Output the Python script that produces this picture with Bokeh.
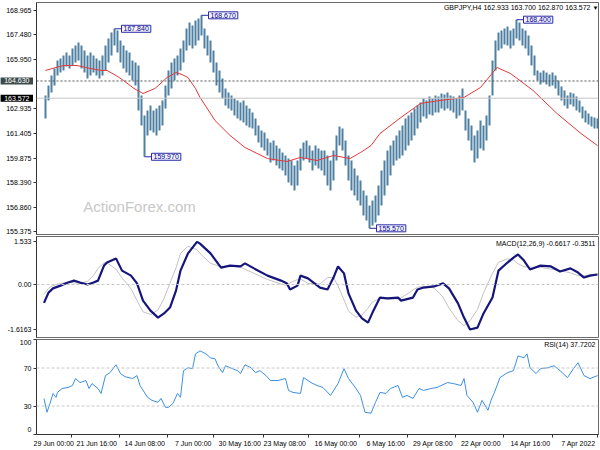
from bokeh.plotting import figure
from bokeh.models import Range1d, FixedTicker, Label, Span
from bokeh.layouts import column, row
from bokeh.embed import file_html
from bokeh.resources import INLINE

# ---------------- data ----------------
symbol_caption = "GBPJPY,H4 162.933 163.700 162.870 163.572"
macd_caption = "MACD(12,26,9) -0.6617 -0.3511"
rsi_caption = "RSI(14) 37.7202"
watermark_text = "ActionForex.com"

# H4 bars, every second bar, bar 0 = oldest (7 Apr 2022)
bar_high = [
    162.32, 162.39, 162.45, 162.63, 162.82, 163.06, 163.43, 163.68, 163.86, 163.92,
    163.74, 164.05, 164.29, 164.66, 164.97, 165.15, 165.03, 165.15, 165.28, 165.15,
    165.28, 166.20, 166.81, 167.43, 167.74, 167.86, 168.23, 168.40, 167.86, 167.74,
    167.98, 167.86, 167.74, 167.61, 167.12, 165.89, 163.74, 162.51, 161.89, 162.20,
    161.59, 161.28, 161.89, 162.32, 162.82, 164.17, 163.74, 163.55, 163.68, 163.74,
    163.92, 163.80, 163.86, 163.68, 163.74, 163.55, 163.68, 163.43, 163.55, 163.31,
    163.12, 162.94, 162.69, 162.51, 162.32, 161.89, 161.59, 161.28, 160.97, 160.66,
    160.36, 159.74, 159.13, 158.20, 157.59, 157.28, 156.97, 157.59, 157.90, 158.51,
    158.82, 159.25, 159.74, 160.05, 160.97, 161.71, 161.83, 161.28, 160.36, 159.74,
    160.05, 160.36, 160.36, 160.48, 160.66, 160.36, 160.66, 160.97, 160.85, 160.48,
    159.74, 159.43, 159.74, 159.86, 160.05, 160.23, 160.48, 160.66, 160.97, 160.85,
    161.09, 161.46, 161.59, 161.89, 162.32, 162.69, 162.94, 163.12, 163.43, 163.31,
    163.43, 163.55, 163.74, 163.92, 164.17, 164.78, 165.28, 165.77, 166.51, 167.12,
    167.43, 167.86, 168.67, 168.47, 168.35, 168.04, 168.23, 167.86, 167.12, 166.63,
    166.20, 166.01, 165.77, 165.28, 164.35, 163.43, 163.12, 162.94, 162.82, 163.12,
    162.82, 162.51, 163.74, 165.58, 165.77, 165.89, 166.38, 166.51, 166.81, 167.12,
    167.74, 167.84, 167.61, 167.24, 166.81, 166.20, 165.89, 166.01, 166.20, 166.38,
    166.20, 166.51, 166.81, 167.00, 166.81, 166.63, 166.20, 166.38, 166.20, 166.01,
    165.89, 165.40, 164.97, 164.35, 163.74,
]
bar_low = [
    161.71, 161.71, 161.83, 161.96, 162.08, 162.32, 162.69, 162.82, 163.06, 163.19,
    162.94, 163.12, 163.43, 163.74, 164.17, 164.35, 164.29, 164.42, 164.54, 164.42,
    164.66, 164.97, 165.58, 166.20, 166.63, 166.81, 167.12, 167.24, 166.81, 166.63,
    166.81, 166.87, 166.63, 166.51, 165.28, 163.74, 161.89, 160.97, 160.36, 160.48,
    159.86, 159.62, 160.36, 160.97, 161.59, 162.82, 162.51, 162.32, 162.69, 162.82,
    162.94, 162.82, 162.94, 162.69, 162.69, 162.51, 162.57, 162.32, 162.45, 162.08,
    161.71, 161.28, 160.97, 160.66, 160.36, 160.05, 159.86, 159.74, 159.43, 158.82,
    158.20, 157.59, 156.97, 156.36, 155.93, 155.74, 155.57, 156.05, 156.36, 156.97,
    157.28, 157.59, 157.90, 158.51, 159.43, 160.36, 160.66, 159.74, 158.51, 157.90,
    158.20, 158.82, 159.13, 159.25, 159.43, 159.13, 159.62, 159.86, 159.74, 159.13,
    158.20, 157.90, 158.20, 158.39, 158.82, 159.13, 159.25, 159.43, 159.74, 159.62,
    160.05, 160.36, 160.54, 160.85, 161.28, 161.71, 161.77, 161.89, 162.08, 162.20,
    162.32, 162.51, 162.82, 162.94, 163.12, 163.55, 163.92, 164.35, 165.15, 165.77,
    166.20, 166.63, 167.43, 167.12, 166.81, 166.63, 166.81, 166.51, 165.77, 165.28,
    164.97, 164.66, 164.17, 163.74, 162.94, 161.89, 161.59, 161.28, 161.46, 161.59,
    161.28, 159.97, 161.89, 162.82, 164.35, 164.66, 164.97, 165.15, 165.40, 165.77,
    166.38, 166.81, 166.20, 165.77, 165.28, 164.97, 164.78, 164.97, 165.15, 164.97,
    164.78, 165.15, 165.40, 165.89, 165.77, 165.58, 165.40, 165.52, 165.28, 165.15,
    164.97, 164.35, 163.92, 163.43, 162.32,
]
bar_pos = list(range(0, 2 * len(bar_high), 2))

ma_pos = [0, 11, 27, 43, 58, 67, 78, 89, 105, 118, 131, 145, 151, 158, 165, 169, 176, 187,
          198, 207, 220, 235, 245, 255, 265, 268, 273, 277, 281, 287, 295, 303, 309, 316,
          321, 327, 331, 338, 347, 356, 361, 368]
ma_val = [160.66, 161.40, 162.63, 164.05, 165.09, 165.46, 164.23, 163.62, 163.43, 163.25,
          162.39, 161.40, 160.66, 160.23, 159.86, 159.93, 160.05, 159.74, 159.93, 159.68,
          159.86, 160.54, 161.28, 162.20, 163.62, 164.17, 164.84, 165.03, 165.15, 164.84,
          164.17, 163.86, 164.17, 164.66, 164.97, 165.28, 165.28, 165.40, 165.58, 165.58,
          165.46, 165.28]

macd_pos = [0, 5, 9, 13, 18, 25, 31, 38, 45, 49, 53, 56, 60, 66, 70, 76, 80, 85, 89, 93,
            99, 103, 109, 116, 120, 123, 131, 133, 140, 145, 150, 153, 157, 161, 166, 169,
            173, 176, 180, 185, 193, 198, 200, 205, 207, 211, 220, 229, 235, 238, 245, 251,
            258, 265, 267, 273, 278, 281, 285, 289, 293, 298, 303, 307, 311, 317, 321, 327,
            329, 333, 336, 340, 345, 349, 353, 358, 363, 366, 369]
macd_main = [0.36, 0.32, 0.25, 0.43, 0.58, 0.47, 0.65, 0.68, 0.54, 0.86,
             1.08, 0.97, 0.79, 0.50, -0.47, -1.04, -1.55, -1.6163, -1.19, -0.68,
             -0.14, 0.04, -0.07, -0.11, -0.18, -0.47, -0.58, -0.47, -0.50, -0.47,
             -1.01, -1.37, -1.22, -0.94, -0.32, 0.40, 0.65, 0.25, -0.18, -0.11,
             0.22, 0.32, -0.04, -0.18, 0.04, 0.14, 0.32, 0.58, 0.76, 0.65,
             0.68, 0.61, 1.12, 1.47, 1.533, 1.12, 0.50, -0.22, -0.83, -1.04,
             -1.19, -0.94, -0.58, 0.04, 0.32, 0.50, 0.94, 0.79, 0.68, 0.14,
             0.07, 0.00, 0.07, 0.14, 0.07, -0.04, -0.14, -0.29, -0.6617]
macd_signal = [0.38, 0.35, 0.31, 0.32, 0.42, 0.50, 0.55, 0.62, 0.62, 0.64,
               0.75, 0.88, 0.92, 0.80, 0.40, -0.30, -0.90, -1.30, -1.48, -1.30,
               -0.85, -0.45, -0.12, -0.06, -0.10, -0.20, -0.48, -0.52, -0.52, -0.50,
               -0.62, -0.85, -1.10, -1.18, -0.95, -0.55, -0.05, 0.25, 0.25, 0.02,
               0.04, 0.20, 0.18, 0.06, -0.03, 0.02, 0.18, 0.40, 0.55, 0.62,
               0.66, 0.64, 0.76, 1.12, 1.25, 1.38, 1.12, 0.60, 0.05, -0.50,
               -0.92, -1.08, -0.98, -0.58, -0.15, 0.24, 0.55, 0.78, 0.78, 0.58,
               0.32, 0.12, 0.04, 0.06, 0.08, 0.04, -0.04, -0.14, -0.3511]

rsi_pos = [0, 5, 9, 13, 16, 20, 25, 29, 33, 38, 41, 45, 47, 49, 53, 56, 60, 65, 69, 71,
           73, 77, 80, 83, 87, 89, 91, 96, 100, 107, 111, 116, 119, 123, 127, 130, 133,
           138, 141, 145, 148, 151, 155, 158, 161, 166, 169, 173, 178, 183, 187, 191, 196,
           198, 203, 206, 208, 213, 218, 221, 225, 228, 231, 235, 238, 240, 245, 248, 250,
           253, 255, 258, 261, 265, 268, 270, 273, 276, 278, 280, 283, 286, 288, 291, 293,
           297, 300, 305, 307, 310, 315, 318, 321, 325, 328, 331, 333, 337, 339, 341, 345,
           348, 350, 353, 357, 360, 361, 363, 365, 367, 369]
rsi_val = [62.0, 58.9, 62.0, 75.5, 69.3, 59.9, 67.2, 72.4, 70.3, 69.3, 64.1, 70.3, 84.9,
           80.7, 82.8, 67.2, 65.1, 59.9, 43.2, 35.9, 25.5, 35.9, 23.4, 33.9, 41.1, 58.9,
           51.6, 53.6, 54.7, 49.5, 48.4, 46.4, 48.4, 38.0, 41.1, 39.1, 51.6, 48.4, 43.2,
           44.3, 33.9, 22.4, 23.4, 41.1, 48.4, 58.9, 69.3, 53.6, 41.1, 49.5, 51.6, 54.7,
           59.9, 43.2, 44.3, 46.4, 58.9, 56.8, 56.8, 62.0, 67.2, 65.1, 70.3, 73.4, 64.1,
           67.2, 70.3, 72.4, 65.1, 72.4, 79.7, 80.7, 84.9, 88.0, 84.9, 69.3, 70.3, 67.2,
           39.1, 43.2, 32.8, 28.6, 28.6, 38.0, 33.9, 35.9, 39.1, 51.6, 62.0, 58.9, 60.9,
           64.1, 73.4, 65.1, 62.0, 43.2, 48.4, 53.6, 48.4, 56.8, 54.7, 58.9, 51.6, 49.5,
           48.4, 44.3, 39.1, 43.2, 32.8, 23.4, 37.72]

price_ticks = [168.965, 167.480, 165.950, 162.935, 161.405, 159.875, 158.390, 156.860, 155.375]
macd_ticks = [1.533, 0.0, -1.6163]
macd_tick_labels = ["1.533", "0.00", "-1.6163"]
rsi_ticks = [100, 70, 30, 0]
rsi_levels = [70, 30]
time_tick_pos = [0, 30, 63, 95, 127, 159, 193, 223, 256, 287, 319, 351]
time_tick_labels = ["7 Apr 2022", "14 Apr 16:00", "22 Apr 00:00", "29 Apr 08:00",
                    "6 May 16:00", "16 May 00:00", "23 May 08:00", "30 May 16:00",
                    "7 Jun 00:00", "14 Jun 08:00", "21 Jun 16:00", "29 Jun 00:00"]
extreme_pos = [54, 152, 264, 302, 322]
extreme_val = [168.400, 155.570, 168.670, 159.970, 167.840]
marked_level = 164.630
last_price = 163.572

# ---------------- style / layout ----------------
FONT = "Liberation Sans"
FS = "7px"
FS_PX = 7
BAR_COLOR = "#4f80a1"
FRAME = "#6a6a6a"
STRIP_W = 33          # left strip carrying the price-scale texts
TICK_W = 3            # axis border (tick marks) of each panel
RIGHT = 2
PANEL_W = 600 - STRIP_W
FRAME_W = PANEL_W - TICK_W - RIGHT
PX_PER_BAR = 1.5
RIGHT_EDGE_PX = 1

x_start = (FRAME_W - RIGHT_EDGE_PX) / PX_PER_BAR
x_end = -RIGHT_EDGE_PX / PX_PER_BAR
xr = Range1d(x_start, x_end)

# approximate Liberation Sans advance widths (em) for label placement
_W = {d: 0.556 for d in "0123456789"}
_W.update({" ": 0.278, ":": 0.278, "A": 0.667, "J": 0.5, "M": 0.833, "p": 0.556, "r": 0.333,
           "u": 0.556, "n": 0.556, "a": 0.556, "y": 0.5})


def text_width(s):
    return sum(_W.get(c, 0.55) for c in s) * FS_PX


def boxed_label(h_pad, v_pad, **kw):
    """Label with an asymmetric padding when supported, else a uniform one."""
    for pad in (dict(left=h_pad, right=h_pad, top=v_pad, bottom=v_pad), max(1, v_pad + 1)):
        try:
            return Label(padding=pad, **kw)
        except Exception:
            continue
    return Label(**kw)


def make_fig(height, yr, top, bottom, yticks, with_xaxis=False):
    p = figure(width=PANEL_W, height=height, x_range=xr, y_range=yr,
               output_backend="svg", toolbar_location=None,
               min_border_left=TICK_W, min_border_right=RIGHT,
               min_border_top=top, min_border_bottom=bottom,
               x_axis_location="below" if with_xaxis else None,
               background_fill_color="white", border_fill_color="white")
    p.xgrid.visible = False
    p.ygrid.visible = False
    p.outline_line_color = FRAME
    p.outline_line_width = 1
    ax = p.yaxis[0]
    ax.ticker = FixedTicker(ticks=yticks)
    ax.major_label_overrides = {t: "" for t in yticks}
    ax.major_label_standoff = 0
    ax.axis_line_color = "#333333"
    ax.major_tick_line_color = "#333333"
    ax.major_tick_out = TICK_W
    ax.major_tick_in = 0
    ax.minor_tick_line_color = None
    return p


def make_strip(height, yr, top, bottom):
    s = figure(width=STRIP_W, height=height, x_range=Range1d(0, STRIP_W), y_range=yr,
               output_backend="svg", toolbar_location=None,
               min_border_left=0, min_border_right=0,
               min_border_top=top, min_border_bottom=bottom,
               x_axis_location=None, y_axis_location=None,
               background_fill_color="white", border_fill_color="white")
    s.outline_line_color = None
    s.xgrid.visible = False
    s.ygrid.visible = False
    return s


def text_label(p, x, y, text, align="right", xu="screen", yu="screen", **kw):
    p.add_layout(Label(x=x, y=y, x_units=xu, y_units=yu, text=text,
                       text_font=FONT, text_font_size=kw.pop("size", FS),
                       text_align=align, text_baseline="middle",
                       text_color=kw.pop("color", "#000000"), **kw))


LABEL_X = STRIP_W - 2   # right edge of scale texts

# ---- main price panel ----
H1, T1, B1 = 235, 2, 1
F1 = H1 - T1 - B1
yr1 = Range1d(155.19, 169.457)
p1 = make_fig(H1, yr1, T1, B1, price_ticks)
s1 = make_strip(H1, yr1, T1, B1)
for t in price_ticks:
    text_label(s1, LABEL_X, t, f"{t:.3f}", yu="data")
for lvl, bg in ((marked_level, "#3d4a4a"), (last_price, "#000000")):
    s1.add_layout(boxed_label(4, 1, x=STRIP_W, y=lvl, x_units="screen", y_units="data",
                              text=f"{lvl:.3f}", text_font=FONT, text_font_size=FS,
                              text_color="white", text_align="right", text_baseline="middle",
                              background_fill_color=bg))

text_label(p1, 103, 28, watermark_text, align="center", size="15px",
           color="#c8c8c8", level="underlay")
p1.add_layout(Span(location=last_price, dimension="width", line_color="#c4c4c4", line_width=1))
p1.add_layout(Span(location=marked_level, dimension="width", line_color="#555555",
                   line_width=1, line_dash="2 2"))
p1.segment(x0=bar_pos, y0=bar_low, x1=bar_pos, y1=bar_high, line_color=BAR_COLOR, line_width=2)
p1.line(ma_pos, ma_val, line_color="#e5373b", line_width=1)

CONNECT_PX = 7
p1.segment(x0=extreme_pos, y0=extreme_val,
           x1=[b - CONNECT_PX / PX_PER_BAR for b in extreme_pos], y1=extreme_val,
           line_color="#2b2ba6", line_width=1)
for b, v in zip(extreme_pos, extreme_val):
    p1.add_layout(boxed_label(2, 1, x=b, y=v, x_offset=CONNECT_PX, text=f"{v:.3f}",
                              text_font=FONT, text_font_size=FS, text_color="#00008b",
                              text_align="left", text_baseline="middle",
                              border_line_color="#2b2ba6", background_fill_color="#f3f3ff"))

text_label(p1, FRAME_W - 8, F1 - 5, symbol_caption)
text_label(p1, FRAME_W - 3, F1 - 5, "\u25bc", align="center", size="6px")

# ---- MACD panel ----
H2, T2, B2 = 103, 1, 1
F2 = H2 - T2 - B2
yr2 = Range1d(-1.906, 1.727)
p2 = make_fig(H2, yr2, T2, B2, macd_ticks)
s2 = make_strip(H2, yr2, T2, B2)
for t, lab in zip(macd_ticks, macd_tick_labels):
    text_label(s2, LABEL_X, t, lab, yu="data")
p2.add_layout(Span(location=0, dimension="width", line_color="#c8c8c8",
                   line_width=1, line_dash="3 2"))
p2.line(macd_pos, macd_signal, line_color="#c2c2c2", line_width=1)
p2.line(macd_pos, macd_main, line_color="#15157c", line_width=2.2)
text_label(p2, FRAME_W - 3, F2 - 7, macd_caption)

# ---- RSI panel ----
H3, T3, B3 = 111, 1, 15
F3 = H3 - T3 - B3
yr3 = Range1d(0, 100)
p3 = make_fig(H3, yr3, T3, B3, rsi_ticks, with_xaxis=True)
s3 = make_strip(H3, yr3, T3, B3)
for t in rsi_ticks:
    if t == 100:
        text_label(s3, LABEL_X, F3 - 3, str(t))
    elif t == 0:
        text_label(s3, LABEL_X, 5, str(t))
    else:
        text_label(s3, LABEL_X, t, str(t), yu="data")
for lvl in rsi_levels:
    p3.add_layout(Span(location=lvl, dimension="width", line_color="#c8c8c8",
                       line_width=1, line_dash="3 2"))
p3.line(rsi_pos, rsi_val, line_color="#3c8fe4", line_width=1)
text_label(p3, FRAME_W - 3, F3 - 5, rsi_caption)

# time axis: tick marks at the bar positions (minor ticks), label text to the left of each tick
label_centers = [round(t + (text_width(s) / 2 + 2) / PX_PER_BAR, 2)
                 for t, s in zip(time_tick_pos, time_tick_labels)]
xa = p3.xaxis[0]
xa.ticker = FixedTicker(ticks=label_centers, minor_ticks=time_tick_pos)
xa.major_label_overrides = dict(zip(label_centers, time_tick_labels))
xa.axis_line_color = "#333333"
xa.major_tick_line_color = None
xa.major_tick_out = 0
xa.major_tick_in = 0
xa.minor_tick_line_color = "#333333"
xa.minor_tick_out = 3
xa.minor_tick_in = 0
xa.major_label_standoff = 2
xa.major_label_text_font = FONT
xa.major_label_text_font_size = FS
xa.major_label_text_color = "#000000"

layout = column(row(s1, p1, spacing=0), row(s2, p2, spacing=0), row(s3, p3, spacing=0),
                spacing=0)
open("out.html", "w").write(file_html(layout, INLINE))
